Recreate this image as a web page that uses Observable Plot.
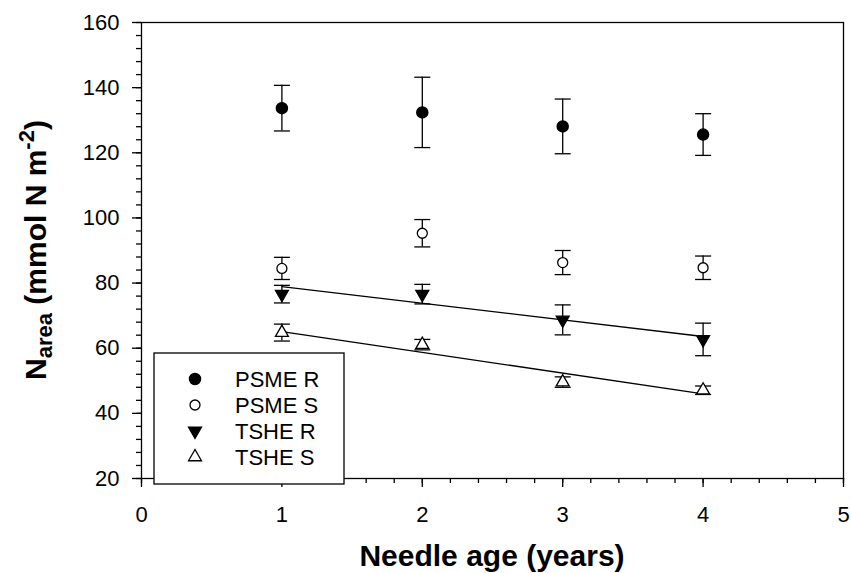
<!DOCTYPE html>
<html>
<head>
<meta charset="utf-8">
<script src="https://cdn.jsdelivr.net/npm/d3@7"></script>
<script src="https://cdn.jsdelivr.net/npm/@observablehq/plot@0.6"></script>
<style>
  html, body { margin: 0; padding: 0; background: #fff; }
  #chart svg { display: block; }
</style>
</head>
<body>
<div id="chart"></div>
<script>
// Needle age (years)
const ages = [1, 2, 3, 4];

// Mean N per leaf area and standard errors, by species and site
const psmeR   = [133.7, 132.4, 128.1, 125.6];
const psmeRSe = [7.0, 10.8, 8.4, 6.4];
const psmeS   = [84.5, 95.3, 86.3, 84.7];
const psmeSSe = [3.4, 4.2, 3.7, 3.6];
const tsheR   = [76.6, 76.6, 68.7, 62.7];
const tsheRSe = [2.7, 3.0, 4.6, 5.0];
const tsheS   = [64.8, 61.1, 49.6, 47.1];
const tsheSSe = [2.6, 1.6, 1.6, 1.3];

// Fitted regression lines for the two TSHE groups (end points)
const fitAges  = [1, 4];
const tsheRFit = [78.9, 63.6];
const tsheSFit = [65.1, 46.0];

// Axis ticks
const xTicks = [0, 1, 2, 3, 4, 5];
const yTicks = [20, 40, 60, 80, 100, 120, 140, 160];
const xMinor = d3.range(0, 5.0001, 0.2);
const yMinor = d3.range(20, 160.0001, 4);

const seriesNames = ["PSME R", "PSME S", "TSHE R", "TSHE S"];

const rowsOf = (name, means, ses) =>
  ages.map((a, i) => ({series: name, age: a, mean: means[i], lo: means[i] - ses[i], hi: means[i] + ses[i]}));

const groups = [
  rowsOf("PSME R", psmeR, psmeRSe),
  rowsOf("PSME S", psmeS, psmeSSe),
  rowsOf("TSHE R", tsheR, tsheRSe),
  rowsOf("TSHE S", tsheS, tsheSSe)
];
const allRows = groups.flat();

const fitRows = [
  ...fitAges.map((a, i) => ({series: "TSHE R", age: a, value: tsheRFit[i]})),
  ...fitAges.map((a, i) => ({series: "TSHE S", age: a, value: tsheSFit[i]}))
];

// Horizontal cap for the error bars
const capSymbol = {
  draw(context) {
    context.moveTo(-8, 0);
    context.lineTo(8, 0);
  }
};

const font = "'Liberation Sans', Arial, Helvetica, sans-serif";
const lw = 1.3;

const symbolStyles = {
  "PSME R": {symbol: "circle", r: 5.6, fill: "black", stroke: "black", rotate: 0},
  "PSME S": {symbol: "circle", r: 5, fill: "white", stroke: "black", rotate: 0},
  "TSHE R": {symbol: "triangle", r: 4.8, fill: "black", stroke: "black", rotate: 180},
  "TSHE S": {symbol: "triangle", r: 4.8, fill: "white", stroke: "black", rotate: 0}
};

const chart = Plot.plot({
  width: 851,
  height: 573,
  marginLeft: 141,
  marginRight: 8,
  marginTop: 22,
  marginBottom: 95,
  x: {domain: [0, 5]},
  y: {domain: [20, 160]},
  style: {fontFamily: font, color: "black", background: "white"},
  marks: [
    Plot.axisY({ticks: yMinor, tickSize: 5, tickFormat: () => "", label: null, strokeWidth: lw}),
    Plot.axisY({ticks: yTicks, tickSize: 9, tickPadding: 13, tickFormat: d3.format("d"), fontSize: 22, label: null, strokeWidth: lw}),
    Plot.axisX({ticks: xMinor, tickSize: 5, tickFormat: () => "", label: null, strokeWidth: lw}),
    Plot.axisX({ticks: xTicks, tickSize: 9, tickPadding: 19, tickFormat: d3.format("d"), fontSize: 22, label: null, strokeWidth: lw}),
    Plot.frame({stroke: "black", strokeWidth: lw}),
    Plot.line(fitRows, {x: "age", y: "value", z: "series", stroke: "black", strokeWidth: lw}),
    Plot.ruleX(allRows, {x: "age", y1: "lo", y2: "hi", stroke: "black", strokeWidth: lw}),
    Plot.dot(allRows, {x: "age", y: "lo", symbol: capSymbol, stroke: "black", strokeWidth: lw, r: 8}),
    Plot.dot(allRows, {x: "age", y: "hi", symbol: capSymbol, stroke: "black", strokeWidth: lw, r: 8}),
    ...groups.map((rows, k) => {
      const s = symbolStyles[seriesNames[k]];
      return Plot.dot(rows, {x: "age", y: "mean", symbol: s.symbol, r: s.r, fill: s.fill, stroke: s.stroke, strokeWidth: lw, rotate: s.rotate});
    })
  ]
});

document.getElementById("chart").appendChild(chart);

const svg = d3.select(chart);

// Y-axis title with subscript and superscript
const yTitle = svg.append("text")
  .attr("transform", "translate(46,250) rotate(-90)")
  .attr("text-anchor", "middle")
  .attr("font-family", font)
  .attr("font-weight", "bold")
  .attr("font-size", 30)
  .attr("fill", "black");
yTitle.append("tspan").text("N");
yTitle.append("tspan").attr("font-size", 22).attr("dy", 6).text("area");
yTitle.append("tspan").attr("dy", -6).text(" (mmol N m");
yTitle.append("tspan").attr("font-size", 22).attr("dy", -12).text("-2");
yTitle.append("tspan").attr("dy", 12).text(")");

// X-axis title
svg.append("text")
  .attr("x", 492)
  .attr("y", 566)
  .attr("text-anchor", "middle")
  .attr("font-family", font)
  .attr("font-weight", "bold")
  .attr("font-size", 30)
  .attr("fill", "black")
  .text("Needle age (years)");

// Legend box
const legend = svg.append("g");
legend.append("rect")
  .attr("x", 154).attr("y", 353)
  .attr("width", 190).attr("height", 131)
  .attr("fill", "white").attr("stroke", "black").attr("stroke-width", lw);

const symbolTypes = {circle: d3.symbolCircle, triangle: d3.symbolTriangle};
seriesNames.forEach((name, i) => {
  const s = symbolStyles[name];
  const cy = 379 + i * 26;
  legend.append("path")
    .attr("d", d3.symbol(symbolTypes[s.symbol], Math.PI * s.r * s.r)())
    .attr("transform", `translate(195,${cy}) rotate(${s.rotate})`)
    .attr("fill", s.fill).attr("stroke", s.stroke).attr("stroke-width", lw);
  legend.append("text")
    .attr("x", 235).attr("y", cy).attr("dy", "0.36em")
    .attr("text-anchor", "start")
    .attr("font-family", font).attr("font-size", 22).attr("fill", "black")
    .text(name);
});
</script>
</body>
</html>
